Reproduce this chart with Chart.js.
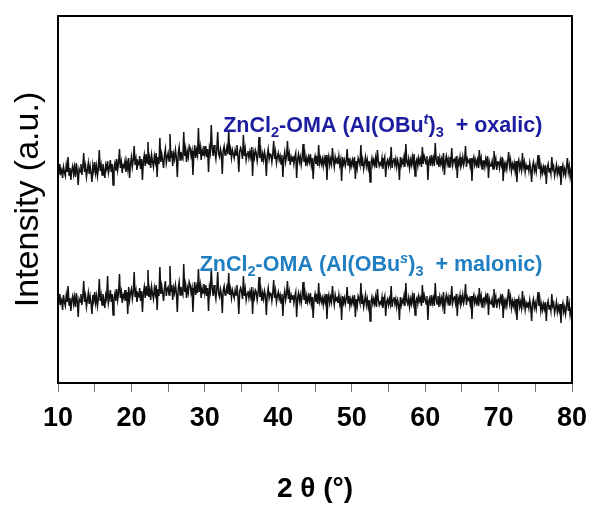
<!DOCTYPE html>
<html><head><meta charset="utf-8">
<script src="https://cdn.jsdelivr.net/npm/chart.js@4/dist/chart.umd.min.js"></script>
<style>html,body{margin:0;padding:0;background:#fff;}#wrap{width:592px;height:511px;}</style>
</head><body><div id="wrap"><canvas id="c" width="592" height="511"></canvas></div>
<script>
// 2θ grid of the scans (degrees)
const angleStart = 10;
const angleStep = 0.125;

// Intensity (a.u.), upper trace: ZnCl2-OMA (Al(OBu^t)3 + oxalic) — one row per degree
const oxalicIntensity = [
215,208,219,210,213,205,216,211, 207,218,211,226,208,215,203,213,
217,209,216,206,220,212,198,214, 211,219,208,216,230,211,217,206,
213,220,209,217,210,201,218,212, 221,210,217,207,215,233,212,218,
208,219,213,205,218,214,222,210, 215,223,211,219,198,215,220,212,
224,213,220,234,215,221,210,218, 216,222,211,221,214,225,205,219,
226,216,223,237,218,224,213,221, 219,227,214,224,203,222,228,217,
229,220,241,218,225,215,228,221, 216,227,221,230,206,226,219,245,
221,229,223,215,228,234,220,226, 230,222,249,225,232,217,229,224,
233,225,206,230,236,223,231,226, 224,251,227,234,221,231,226,237,
235,227,232,208,228,238,225,233, 228,255,229,236,223,233,228,237,
229,237,226,234,211,235,230,258, 235,227,238,230,224,234,251,229,
226,234,229,209,233,237,228,231, 236,229,253,228,234,225,233,229,
225,233,228,238,227,211,232,235, 231,224,248,227,234,223,229,232,
225,231,226,236,207,230,225,233, 230,222,229,246,225,232,221,229,
223,231,226,207,228,234,224,229, 228,221,229,242,224,231,220,226,
230,223,227,219,228,206,225,231, 221,227,242,222,229,218,226,222,
227,219,226,230,205,224,229,221, 226,218,225,239,221,228,217,225,
220,226,221,229,218,225,204,223, 227,219,224,217,238,220,225,219,
224,217,225,220,228,203,222,227, 218,224,219,235,223,216,226,221,
224,219,227,218,223,202,226,219, 223,217,222,234,218,225,215,222,
217,223,218,226,204,222,215,225, 222,218,238,217,223,214,220,226,
217,223,215,222,201,220,225,218, 223,218,225,215,233,222,217,220,
218,225,214,222,226,206,220,223, 217,223,218,236,215,222,225,218,
224,216,223,219,203,226,218,223, 219,226,216,239,221,218,224,215,
223,218,226,219,229,207,221,224, 217,225,220,224,216,236,219,227,
224,219,227,203,222,225,217,228, 220,225,217,240,224,219,227,216,
225,219,224,217,230,208,222,227, 219,224,216,226,221,235,218,223,
224,218,227,205,223,219,226,216, 219,226,218,223,237,216,224,221,
223,217,225,202,222,226,218,223, 218,223,215,233,220,225,214,222,
222,216,224,219,227,205,221,217, 217,222,214,232,219,224,213,221,
221,215,223,218,226,202,220,216, 220,214,222,231,217,223,212,219,
215,220,212,222,201,219,223,214, 219,213,230,216,221,211,218,214,
218,212,220,213,201,217,221,212, 217,211,219,228,214,220,209,216,
210,216,211,218,199,215,219,211, 215,209,226,214,217,207,212,218,
209,215,210,217,198,214,218,209, 214,208,216,225,211,217,206,213,
210
];

// Intensity (a.u.), lower trace: ZnCl2-OMA (Al(OBu^s)3 + malonic) — one row per degree
const malonicIntensity = [
85,78,89,80,83,73,88,81, 77,88,81,97,78,85,72,83,
87,79,86,76,90,82,66,84, 81,89,78,86,102,81,87,76,
83,90,79,87,80,69,88,82, 91,80,87,77,85,104,82,88,
78,89,83,75,88,84,107,80, 85,93,81,89,68,85,90,82,
94,83,90,109,85,91,80,88, 85,93,82,91,69,96,83,90,
94,84,91,111,86,92,81,89, 87,95,82,92,71,90,96,85,
97,88,113,86,93,83,96,89, 84,95,89,98,73,94,87,116,
89,97,90,82,95,102,87,94, 96,88,117,91,98,83,95,90,
98,90,71,95,101,88,96,91, 88,119,91,98,85,95,90,101,
98,90,95,71,91,101,88,96, 90,114,91,98,85,95,90,99,
90,98,87,95,72,96,91,115, 95,87,98,90,84,94,111,89,
86,94,89,70,93,97,88,91, 96,89,110,88,94,85,93,89,
85,93,88,98,87,69,92,95, 91,84,107,87,94,83,89,92,
85,91,86,96,69,90,85,93, 91,83,90,106,86,93,82,90,
84,92,87,68,89,95,85,90, 89,82,90,103,85,92,81,87,
91,84,88,80,89,67,86,92, 83,89,102,84,91,80,88,84,
88,80,87,91,66,85,90,82, 88,80,87,101,83,90,79,87,
81,87,82,90,79,86,65,84, 89,81,86,79,100,82,87,81,
85,78,86,81,89,64,83,88, 80,86,81,97,85,78,88,83,
85,80,88,79,84,63,87,80, 85,79,84,96,80,87,77,84,
79,85,80,88,66,84,77,87, 84,80,100,79,85,76,82,88,
78,84,76,83,62,81,86,79, 84,79,86,76,94,83,78,81,
79,86,75,83,87,67,81,84, 78,84,79,97,76,83,86,79,
84,76,83,79,63,86,78,83, 80,87,77,100,82,79,85,76,
84,79,87,80,90,68,82,85, 79,87,82,85,77,98,80,88,
84,79,87,63,82,85,77,88, 80,85,77,100,84,79,87,76,
86,80,85,78,91,69,83,88, 81,86,78,88,83,97,80,85,
86,80,89,67,85,81,88,78, 81,88,80,85,99,78,86,83,
85,79,87,64,84,88,80,85, 80,85,77,95,82,87,76,84,
85,79,87,82,90,68,84,80, 79,84,76,94,81,86,75,83,
84,78,86,81,89,65,83,79, 83,77,85,94,80,86,75,82,
77,82,74,84,63,81,85,76, 81,75,92,78,83,73,80,76,
81,75,83,76,62,80,84,75, 80,74,82,91,77,83,72,79,
73,79,74,81,62,78,82,74, 78,72,89,77,80,70,75,81,
71,77,72,79,60,76,80,71, 76,69,77,87,72,79,68,74,
73
];

const xMajorTicks = [10, 20, 30, 40, 50, 60, 70, 80];
const xTitle = '2 θ (°)';
const yTitle = 'Intensity (a.u.)';

// Series annotations: [text, kind] with kind '' normal, 'sub', 'sup'
const oxalicLabel = [['ZnCl',''],['2','sub'],['-OMA (Al(OBu',''],['t','sup'],[')',''],['3','sub'],['  + oxalic)','']];
const malonicLabel = [['ZnCl',''],['2','sub'],['-OMA (Al(OBu',''],['s','sup'],[')',''],['3','sub'],['  + malonic)','']];
const labelAnchors = [
  {parts: oxalicLabel, x: 32.5, y: 251, color: '#1c1ca0'},
  {parts: malonicLabel, x: 29.3, y: 112, color: '#1f7fc2'}
];

const toPoints = arr => arr.map((v, i) => ({x: angleStart + i * angleStep, y: v}));

const framePlugin = {
  id: 'frame',
  afterDatasetsDraw(chart) {
    const {ctx, chartArea: a, scales} = chart;
    ctx.save();
    ctx.strokeStyle = '#000';
    ctx.lineWidth = 2;
    ctx.strokeRect(a.left, a.top, a.right - a.left, a.bottom - a.top);
    const size = 21.5;
    labelAnchors.forEach(l => {
      let x = scales.x.getPixelForValue(l.x);
      const y = scales.y.getPixelForValue(l.y);
      ctx.fillStyle = l.color;
      ctx.textBaseline = 'alphabetic';
      ctx.textAlign = 'left';
      l.parts.forEach(([t, k]) => {
        let fs = size, dy = 0, style = '';
        if (k === 'sub') { fs = size * 0.68; dy = size * 0.22; }
        if (k === 'sup') { fs = size * 0.68; dy = -size * 0.38; style = 'italic '; }
        ctx.font = style + 'bold ' + fs + 'px "Liberation Sans", Arial, sans-serif';
        ctx.fillText(t, x, y + dy);
        x += ctx.measureText(t).width;
      });
    });
    ctx.restore();
  }
};

new Chart(document.getElementById('c'), {
  type: 'line',
  data: {
    datasets: [
      {label: 'oxalic', data: toPoints(oxalicIntensity), borderColor: '#111', borderWidth: 1.5, pointRadius: 0, tension: 0},
      {label: 'malonic', data: toPoints(malonicIntensity), borderColor: '#111', borderWidth: 1.5, pointRadius: 0, tension: 0}
    ]
  },
  options: {
    responsive: false,
    animation: false,
    layout: {padding: {left: 0, right: 20, top: 16, bottom: 0}},
    plugins: {legend: {display: false}, tooltip: {enabled: false}},
    scales: {
      x: {
        type: 'linear', min: 10, max: 80,
        afterFit(s) { s.height = 128; s.paddingRight = 0; s.paddingLeft = 0; },
        border: {display: false},
        grid: {drawOnChartArea: false, drawTicks: true, tickLength: 9, color: '#777', lineWidth: 1},
        ticks: {
          stepSize: 5, autoSkip: false, maxRotation: 0, padding: 10,
          color: '#000',
          font: {family: '"Liberation Sans", Arial, sans-serif', size: 27, weight: 'bold'},
          callback: v => xMajorTicks.includes(v) ? String(v) : ''
        },
        title: {
          display: true, text: xTitle, color: '#000',
          font: {family: '"Liberation Sans", Arial, sans-serif', size: 28, weight: 'bold'},
          padding: {top: 0, bottom: 5}
        }
      },
      y: {
        min: 0, max: 367,
        afterFit(s) { s.width = 58; },
        border: {display: false},
        grid: {display: false, drawTicks: false},
        ticks: {display: false},
        title: {
          display: true, text: yTitle, color: '#000',
          font: {family: '"Liberation Sans", Arial, sans-serif', size: 34, weight: 'normal'},
          padding: {top: 8, bottom: 0}
        }
      }
    }
  },
  plugins: [framePlugin]
});
</script>
</body></html>
